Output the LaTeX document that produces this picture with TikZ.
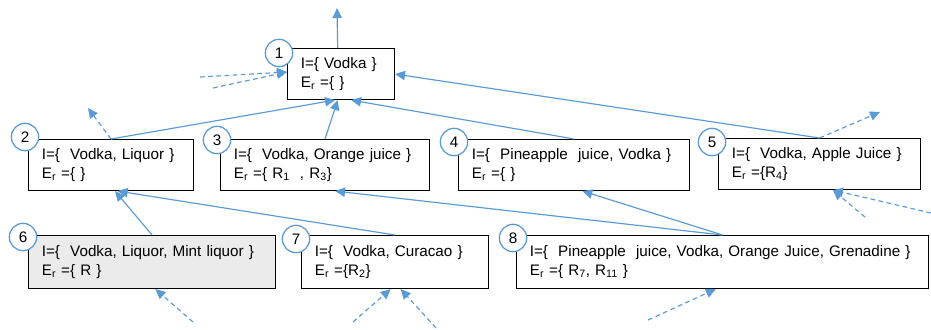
\documentclass[tikz,border=0pt]{standalone}
\usepackage{fontspec}
\setmainfont{Liberation Sans}
\usetikzlibrary{arrows.meta}

\definecolor{lineblue}{HTML}{5B9BD5}
\definecolor{boxgray}{HTML}{EBEBEB}

\tikzset{
  itemset/.style={draw, line width=0.9pt, fill=white, anchor=north west, align=left,
    inner xsep=0.4cm, inner ysep=0pt, minimum height=1.53cm},
  num/.style={circle, draw=lineblue, line width=1.1pt, fill=white,
    minimum size=0.82cm, inner sep=0pt},
  edge/.style={draw=lineblue, line width=1pt, -{Triangle[length=0.3cm,width=0.28cm]}},
  open/.style={edge, dash pattern=on 4pt off 3pt}
}

% two lines of an itemset, never broken
\newcommand{\twol}[2]{\mbox{#1}\\\mbox{#2}}
\newcommand{\Er}{E\textsubscript{r}}

\begin{document}
\begin{tikzpicture}[x=0.03cm, y=-0.03cm, font=\fontsize{13}{16}\selectfont]

\useasboundingbox (0,0) rectangle (931,329);

% itemsets
\node[itemset, text width=2.41cm] (b1) at (287,48) {\twol{I=\{ Vodka \}}{\Er\ =\{ \}}};

\node[itemset, text width=4.15cm] (b2) at (28,139) {\twol{I=\{~ Vodka, Liquor \}}{\Er\ =\{ \}}};
\node[itemset, text width=5.47cm] (b3) at (220,139) {\twol{I=\{~ Vodka, Orange juice \}}{\Er\ =\{ R\textsubscript{1}~ , R\textsubscript{3}\}}};
\node[itemset, text width=6.13cm] (b4) at (458,139) {\twol{I=\{~ Pineapple~ juice, Vodka \}}{\Er\ =\{ \}}};
\node[itemset, text width=5.26cm] (b5) at (718,138) {\twol{I=\{~ Vodka, Apple Juice \}}{\Er\ =\{R\textsubscript{4}\}}};

\node[itemset, fill=boxgray, text width=6.61cm, minimum height=1.59cm] (b6) at (28,235) {\twol{I=\{~ Vodka, Liquor, Mint liquor \}}{\Er\ =\{ R \}}};
\node[itemset, text width=4.81cm, minimum height=1.59cm] (b7) at (301,235) {\twol{I=\{~ Vodka, Curacao \}}{\Er\ =\{R\textsubscript{2}\}}};
\node[itemset, text width=11.56cm, minimum height=1.59cm] (b8) at (516,235) {\twol{I=\{~ Pineapple~ juice, Vodka, Orange Juice, Grenadine \}}{\Er\ =\{ R\textsubscript{7}, R\textsubscript{11} \}}};

% numbers
\node[num] (n1) at (279,53) {1};
\node[num] (n2) at (25,137) {2};
\node[num] (n3) at (217,140) {3};
\node[num] (n4) at (454,142) {4};
\node[num] (n5) at (712,142) {5};
\node[num] (n6) at (23,237) {6};
\node[num] (n7) at (296,239) {7};
\node[num] (n8) at (513,238) {8};

% loose ends
\coordinate (up1) at (337,8);
\coordinate (l1a) at (200,77);
\coordinate (l1b) at (213,88);
\coordinate (up2) at (88,108);
\coordinate (up5) at (880,112);
\coordinate (d5a) at (931,213);
\coordinate (d5b) at (865,217);
\coordinate (d6) at (193,322);
\coordinate (d7a) at (353,322);
\coordinate (d7b) at (436,328);
\coordinate (d8) at (648,320);

% links
\draw[edge] ([xshift=-0.1cm]b1.north) -- (up1);
\draw[edge] (b2.north) -- ([xshift=-0.18cm]b1.south);
\draw[edge] (b3.north) -- ([xshift=-0.1cm]b1.south);
\draw[edge] (b4.north) -- ([xshift=0.3cm]b1.south);
\draw[edge] (b5.north) -- (b1.east);

\draw[edge] (b6.north) -- ([xshift=0.12cm]b2.south);
\draw[edge] (b7.north) -- ([xshift=0.2cm]b2.south);
\draw[edge] (b8.north) -- ([xshift=0.3cm]b3.south);
\draw[edge] (b8.north) -- ([xshift=0.25cm]b4.south);

\draw[open] (l1a) -- ([yshift=0.06cm]b1.west);
\draw[open] (l1b) -- ([yshift=0.06cm]b1.west);
\draw[open] (b2.north) -- (up2);
\draw[open] (b5.north) -- (up5);
\draw[open] (d5a) -- ([xshift=0.4cm]b5.south);
\draw[open] (d5b) -- ([xshift=0.4cm]b5.south);
\draw[open] (d6) -- ([xshift=0.1cm]b6.south);
\draw[open] (d7a) -- ([xshift=-0.13cm]b7.south);
\draw[open] (d7b) -- ([xshift=0.17cm]b7.south);
\draw[open] (d8) -- ([xshift=-0.2cm]b8.south);

\end{tikzpicture}
\end{document}
